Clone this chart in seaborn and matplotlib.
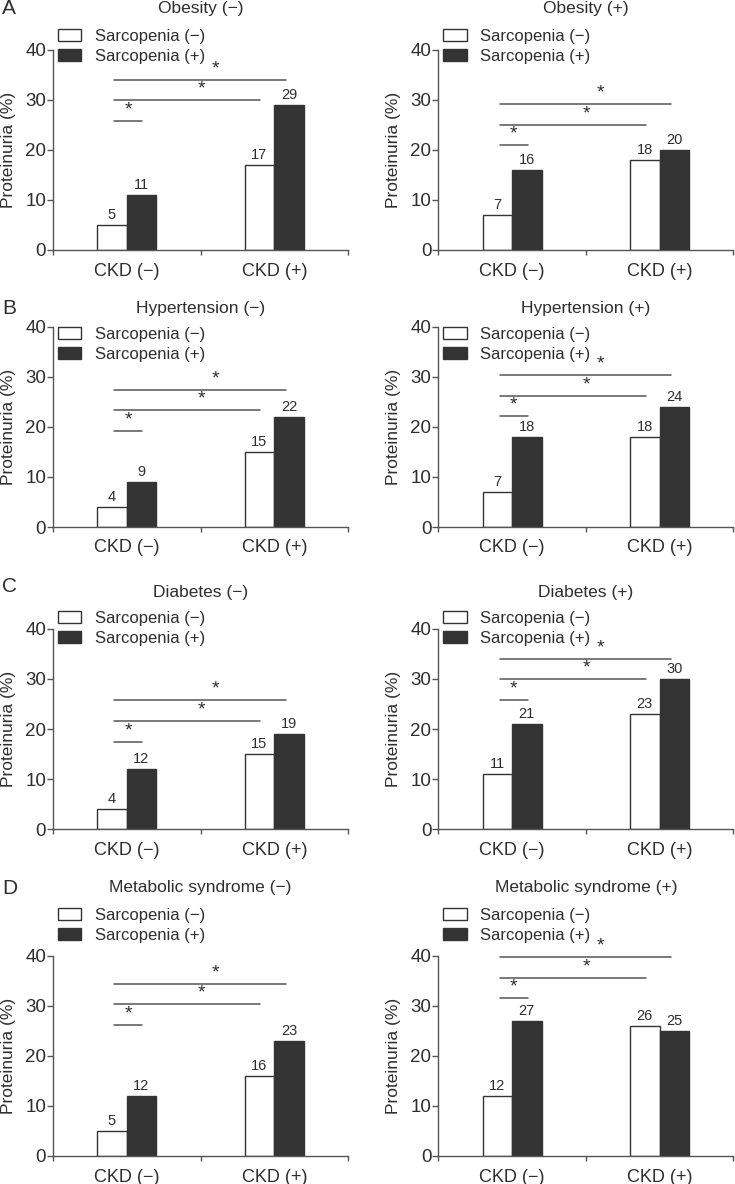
import numpy as np
import pandas as pd
import seaborn as sns
from matplotlib import pyplot as plt

sns.set_theme(style='ticks')
plt.rcParams['font.family'] = ['Liberation Sans', 'DejaVu Sans']

# categories
ckd = ['CKD (−)', 'CKD (+)']
sarco = ['Sarcopenia (−)', 'Sarcopenia (+)']
letters = ['A', 'B', 'C', 'D']

titles = ['Obesity (−)', 'Obesity (+)',
          'Hypertension (−)', 'Hypertension (+)',
          'Diabetes (−)', 'Diabetes (+)',
          'Metabolic syndrome (−)', 'Metabolic syndrome (+)']

# proteinuria (%): CKD(-)/sarc(-), CKD(-)/sarc(+), CKD(+)/sarc(-), CKD(+)/sarc(+)
obesity_neg = [5, 11, 17, 29]
obesity_pos = [7, 16, 18, 20]
htn_neg = [4, 9, 15, 22]
htn_pos = [7, 18, 18, 24]
dm_neg = [4, 12, 15, 19]
dm_pos = [11, 21, 23, 30]
mets_neg = [5, 12, 16, 23]
mets_pos = [12, 27, 26, 25]
values = [obesity_neg, obesity_pos, htn_neg, htn_pos, dm_neg, dm_pos, mets_neg, mets_pos]

# heights of the significance bars (short, middle, long)
sig_obesity_neg = [25.7, 29.9, 34.0]
sig_obesity_pos = [21.0, 25.0, 29.2]
sig_htn_neg = [19.1, 23.3, 27.4]
sig_htn_pos = [22.1, 26.2, 30.3]
sig_dm_neg = [17.5, 21.6, 25.7]
sig_dm_pos = [25.7, 29.9, 34.0]
sig_mets_neg = [26.2, 30.3, 34.4]
sig_mets_pos = [31.5, 35.6, 39.7]
sig_heights = [sig_obesity_neg, sig_obesity_pos, sig_htn_neg, sig_htn_pos,
               sig_dm_neg, sig_dm_pos, sig_mets_neg, sig_mets_pos]

TXT = '#2e2e2e'
AX = '#555555'
DARK = '#333333'

W, H = 735, 1184
fig = plt.figure(figsize=(W / 100, H / 100), dpi=100)

# layout in pixels
col_left = [53, 438.3]
ax_w = 295
row_y0 = [250, 527, 829.3, 1156]
ax_h = 200.5
title_off = [41, 17.5, 36, 68]
legend_off = [15, -6, 12.3, 42.3]
letter_y = [8, 309, 587, 888]

# span of the three significance bars and star x, in category units
spans = [(-0.085, 0.105), (-0.085, 0.905), (-0.085, 1.08)]
star_x = [0.01, 0.505, 0.6]

for i in range(8):
    r, c = divmod(i, 2)
    ax = fig.add_axes([col_left[c] / W, 1 - row_y0[r] / H, ax_w / W, ax_h / H])

    df = pd.DataFrame({
        'CKD': [ckd[0], ckd[0], ckd[1], ckd[1]],
        'Sarcopenia': sarco * 2,
        'Proteinuria': values[i],
    })
    sns.barplot(data=df, x='CKD', y='Proteinuria', hue='Sarcopenia',
                order=ckd, hue_order=sarco,
                palette={sarco[0]: 'white', sarco[1]: DARK},
                saturation=1, width=0.4, errorbar=None,
                edgecolor=DARK, linewidth=1, legend=False, ax=ax)

    for cont in ax.containers:
        ax.bar_label(cont, fmt='%g', padding=2, fontsize=10.5, color=TXT)

    ax.set_xlim(-0.5, 1.5)
    ax.set_ylim(0, 40)
    ax.set_yticks([0, 10, 20, 30, 40])
    ax.set_xticks([-0.5, 0.5, 1.5], labels=[])
    ax.set_xticks([0, 1], labels=ckd, minor=True)
    ax.tick_params(axis='x', which='major', length=3.6, width=1, color=AX)
    ax.tick_params(axis='x', which='minor', length=0, pad=9, labelsize=13, labelcolor=TXT)
    ax.tick_params(axis='y', length=4, width=1, color=AX, pad=1, labelsize=13.5, labelcolor=TXT)
    ax.set_xlabel('')
    ax.set_ylabel('Proteinuria (%)', fontsize=12.5, color=TXT)
    ax.yaxis.set_label_coords(-37 / ax_w, 0.5)
    sns.despine(ax=ax)
    for s in ['left', 'bottom']:
        ax.spines[s].set_color(AX)
        ax.spines[s].set_linewidth(1)
    ax.set_facecolor('white')

    # significance bars
    for (x0, x1), sx, y in zip(spans, star_x, sig_heights[i]):
        ax.plot([x0, x1], [y, y], color=AX, lw=1.1, clip_on=False)
        ax.text(sx, y + 1.3, '*', ha='center', va='baseline',
                fontsize=14, color=TXT, clip_on=False)

    # legend
    ax.legend(handles=ax.containers, labels=sarco, loc='upper left',
              bbox_to_anchor=(0.017, 1 + (legend_off[r] + 5.5) / ax_h),
              frameon=False, fontsize=12, handlelength=1.4, handleheight=0.7,
              handletextpad=0.8, labelspacing=0.3, borderpad=0, borderaxespad=0,
              labelcolor=TXT)

    ax.text(0.5, 1 + title_off[r] / ax_h, titles[i], transform=ax.transAxes,
            ha='center', va='center', fontsize=12.5, color=TXT)

    if c == 0:
        fig.text(2 / W, 1 - letter_y[r] / H, letters[r], ha='left', va='center',
                 fontsize=15, color=TXT)

fig.savefig('out.png', dpi=100, facecolor='white')
